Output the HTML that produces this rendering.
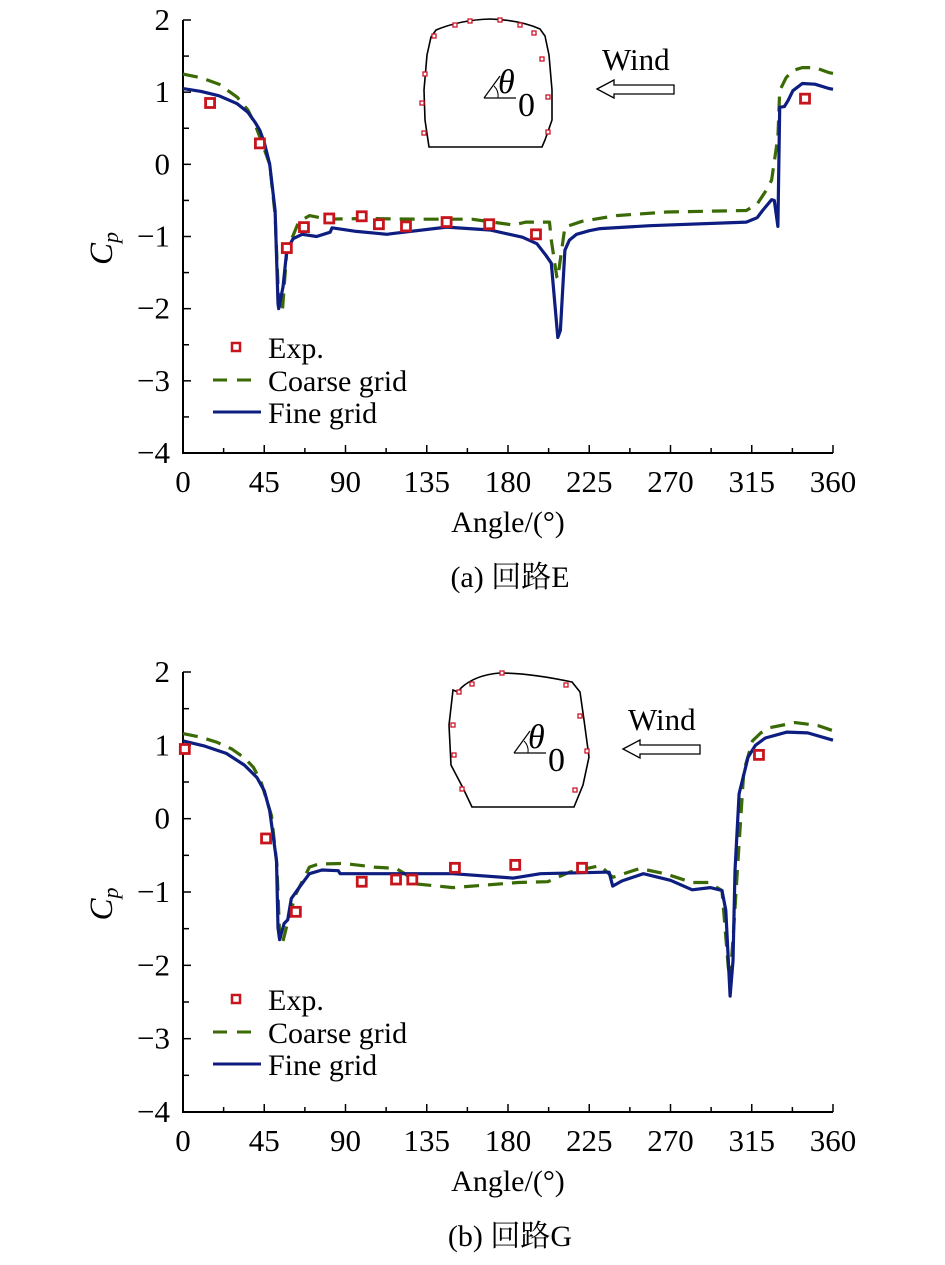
<!DOCTYPE html>
<html><head><meta charset="utf-8">
<style>
body{margin:0;background:#fff;}
svg{display:block;font-family:"Liberation Serif","Noto Serif CJK SC",serif;}
</style></head>
<body>
<svg id="fig" width="945" height="1265" viewBox="0 0 945 1265" xmlns="http://www.w3.org/2000/svg"></svg>
<script>
// ---- Panel (a) data: circuit E ----
const aFineDeg=[0,10,20,30,36,40,42.6,45,48,51,52.6,53,55.4,57.5,61,66,74,81.5,82.5,96,113,116,146,170,188,196,201,204,207.6,209,211.5,214,218,225,231,258.6,312,318,321,326,327.5,329.5,330.5,333,335,337.8,343,350,358,360];
const aFineCp=[1.05,1.01,0.95,0.84,0.72,0.58,0.47,0.3,0.0,-0.64,-1.93,-2.0,-1.7,-1.19,-1.03,-0.97,-1.0,-0.94,-0.88,-0.93,-0.97,-0.96,-0.87,-0.91,-1.01,-1.1,-1.26,-1.37,-2.4,-2.3,-1.19,-1.05,-0.97,-0.92,-0.89,-0.85,-0.8,-0.74,-0.64,-0.49,-0.5,-0.86,0.79,0.8,0.88,1.02,1.12,1.11,1.05,1.04];
const aCoarseDeg=[0,4,10,20,30,36,40,43,48,51,53,55,57.5,64,70,80,100,130,160,183,190,203,204,207,207.5,211.5,221,240,268,312,318,323,326,329.5,330.5,334,337.8,343,350,358,360];
const aCoarseCp=[1.25,1.23,1.2,1.11,0.93,0.75,0.55,0.35,0.0,-0.7,-1.9,-2.05,-1.2,-0.8,-0.71,-0.76,-0.75,-0.76,-0.76,-0.84,-0.8,-0.8,-1.05,-1.56,-1.58,-0.87,-0.79,-0.71,-0.66,-0.64,-0.55,-0.36,-0.22,0.38,1.02,1.2,1.3,1.34,1.34,1.27,1.26];
const aExpDeg=[15,42.6,57.5,67,81,99,108.5,123.5,146,169.6,195.5,344.5];
const aExpCp=[0.85,0.29,-1.16,-0.87,-0.75,-0.72,-0.83,-0.86,-0.8,-0.83,-0.97,0.91];
// ---- Panel (b) data: circuit G ----
const bFineDeg=[0,12,24,34,41,45,48,51.8,52.6,53.5,56,58,60,64,70,77,86,87,113,149.5,183,198,233.6,236,238,243,255,270,282,292,298.5,300.6,303,304.6,305.7,308,313,317,322.5,334.5,346,360];
const bFineCp=[1.06,0.99,0.89,0.73,0.56,0.38,0.11,-0.57,-1.49,-1.65,-1.43,-1.38,-1.09,-0.95,-0.75,-0.7,-0.71,-0.75,-0.75,-0.75,-0.81,-0.75,-0.73,-0.73,-0.92,-0.85,-0.75,-0.84,-0.97,-0.94,-0.98,-1.25,-2.42,-1.94,-0.71,0.34,0.84,1.0,1.1,1.18,1.17,1.07];
const bCoarseDeg=[0,10,19,27,34,39,43,49,52,53.5,55,58.5,62.5,70,75,89,106,118,123,129,149.5,185.6,202,214,231,238,253,267,282,291,298.5,302,303,305,308,310.6,315.4,320,325,339,351.6,360];
const bCoarseCp=[1.16,1.11,1.04,0.95,0.83,0.7,0.52,0.04,-0.63,-1.58,-1.71,-1.36,-1.03,-0.66,-0.62,-0.61,-0.66,-0.68,-0.75,-0.89,-0.94,-0.87,-0.86,-0.73,-0.64,-0.8,-0.68,-0.75,-0.87,-0.87,-0.98,-2.03,-2.2,-1.5,-0.34,0.65,1.06,1.17,1.24,1.31,1.27,1.2];
const bExpDeg=[1,46,62.5,99,118,127,150.6,184,221,319];
const bExpCp=[0.95,-0.27,-1.27,-0.86,-0.83,-0.83,-0.67,-0.63,-0.67,0.87];
const xTicks=[0,45,90,135,180,225,270,315,360];
const yTicks=[2,1,0,-1,-2,-3,-4];
const yTickLabels=["2","1","0","\u22121","\u22122","\u22123","\u22124"];

const NS="http://www.w3.org/2000/svg";
const svg=document.getElementById('fig');
function mk(tag,attrs,parent){const e=document.createElementNS(NS,tag);for(const k in attrs)e.setAttribute(k,attrs[k]);(parent||svg).appendChild(e);return e;}

function drawPanel(id,top,bottom,fineD,fineC,coarseD,coarseC,expD,expC,caption,inset){
  const x0=183,x1=833;
  const xs=d=>x0+(d/360)*(x1-x0);
  const ys=v=>top+(2-v)/6*(bottom-top);
  const g=mk('g',{});
  
  
  const ax=mk('path',{d:`M${x0},${top} L${x0},${bottom} L${x1},${bottom}`,stroke:'#000','stroke-width':2,fill:'none'},g);
  
  
  for(let d=0;d<=360;d+=22.5){
    const major=(d%45===0);
    const t=mk('line',{x1:xs(d),x2:xs(d),y1:bottom,y2:bottom-(major?8:5),stroke:'#000','stroke-width':1.5},g);
    
    
  }
  for(let v=-4;v<=2;v+=0.5){
    const t=mk('line',{x1:x0,x2:x0+(Number.isInteger(v)?8:6),y1:ys(v),y2:ys(v),stroke:'#000','stroke-width':1.5},g);
    
    
  }
  xTicks.forEach(d=>{
    const t=mk('text',{x:xs(d),y:bottom+39,'font-size':31,'text-anchor':'middle'},g);
    t.textContent=String(d);
    
    
  });
  yTicks.forEach((v,i)=>{
    const t=mk('text',{x:170,y:ys(v)+10,'font-size':31,'text-anchor':'end'},g);
    t.textContent=yTickLabels[i];
    
    
  });
  const yl=mk('text',{transform:`translate(112,${ys(-1)+12}) rotate(-90)`,'font-size':33,'font-style':'italic','text-anchor':'middle'},g);
  yl.innerHTML='C<tspan font-size="22" dy="6">p</tspan>';
  
  
  const xl=mk('text',{x:508,y:bottom+79,'font-size':30,'text-anchor':'middle'},g);
  xl.textContent='Angle/(\u00b0)';
  
  
  const cap=mk('text',{x:510,y:bottom+134,'font-size':30,'text-anchor':'middle'},g);
  cap.textContent=caption;
  
  
  const path=(D,C)=>D.map((d,i)=>(i?'L':'M')+xs(d).toFixed(1)+','+ys(C[i]).toFixed(1)).join(' ');
  const cl=mk('path',{d:path(coarseD,coarseC),stroke:'#3a6a05','stroke-width':3.2,fill:'none','stroke-dasharray':'15,9','stroke-linejoin':'round'},g);
  
  
  const fl=mk('path',{d:path(fineD,fineC),stroke:'#0d1d80','stroke-width':3.2,fill:'none','stroke-linejoin':'round'},g);
  
  
  expD.forEach((d,i)=>{
    const r=mk('rect',{x:xs(d)-4.5,y:ys(expC[i])-4.5,width:9,height:9,fill:'#fff',stroke:'#c8141c','stroke-width':2.8},g);
    
    
  });
  const ly=top+327;
  const lg=mk('g',{},g);
  
  
  const lm=mk('rect',{x:232,y:ly-4,width:8,height:8,fill:'#fff',stroke:'#c8141c','stroke-width':2.5},lg);
  
  
  const t1=mk('text',{x:268,y:ly+11,'font-size':30},lg);t1.textContent='Exp.';
  
  
  const l2=mk('line',{x1:213,x2:259,y1:ly+33,y2:ly+33,stroke:'#3a6a05','stroke-width':3,'stroke-dasharray':'14,10'},lg);
  
  
  const t2=mk('text',{x:268,y:ly+44,'font-size':30},lg);t2.textContent='Coarse grid';
  
  
  const l3=mk('line',{x1:213,x2:261,y1:ly+65,y2:ly+65,stroke:'#0d1d80','stroke-width':3},lg);
  
  
  const t3=mk('text',{x:268,y:ly+76,'font-size':30},lg);t3.textContent='Fine grid';
  
  
  const ig=mk('g',{},g);
  
  
  const sh=mk('path',{d:inset.shape,stroke:'#000','stroke-width':1.6,fill:'none'},ig);
  
  
  inset.taps.forEach(p=>{
    const r=mk('rect',{x:p[0]-2,y:p[1]-2,width:4,height:4,fill:'#fff',stroke:'#d0142a','stroke-width':1.3},ig);
    
    
  });
  const [cx,cy]=inset.center;
  mk('line',{x1:cx-14,y1:cy,x2:cx+18,y2:cy,stroke:'#000','stroke-width':1.2},ig);
  mk('line',{x1:cx-14,y1:cy,x2:cx+2,y2:cy-22,stroke:'#000','stroke-width':1.2},ig);
  mk('path',{d:`M${cx-4},${cy-12} Q${cx+1},${cy-7} ${cx},${cy}`,stroke:'#000','stroke-width':1,fill:'none'},ig);
  const th=mk('text',{x:cx,y:cy-5,'font-size':34,'font-style':'italic'},ig);th.textContent='\u03b8';
  
  
  const z=mk('text',{x:cx+20,y:cy+18,'font-size':34},ig);z.textContent='0';
  
  
  const [wx,wy]=inset.wind;
  const wt=mk('text',{x:wx,y:wy,'font-size':31},ig);wt.textContent='Wind';
  
  
  const ar=mk('path',{d:`M${wx-5},${wy+19} L${wx+12},${wy+10} L${wx+12},${wy+15} L${wx+72},${wy+15} L${wx+72},${wy+24} L${wx+12},${wy+24} L${wx+12},${wy+28} Z`,stroke:'#000','stroke-width':1.3,fill:'#fff'},ig);
  
  
}

drawPanel('a',20,453,aFineDeg,aFineCp,aCoarseDeg,aCoarseCp,aExpDeg,aExpCp,'(a) 回路E',{
  shape:'M429,147 L425,120 L424,90 L427,55 L431,37 L436,30 Q460,20 490,19 Q520,20 540,29 L545,36 L549,55 L552,90 L552,120 L545,140 L542,147 Z',
  taps:[[424,133],[422,103],[425,74],[434,36],[455,25],[470,21],[500,20],[520,25],[534,33],[542,59],[548,97],[548,132]],
  center:[498,98],wind:[602,70]});
drawPanel('b',672,1112,bFineDeg,bFineCp,bCoarseDeg,bCoarseCp,bExpDeg,bExpCp,'(b) 回路G',{
  shape:'M472,807 L463,788 L451,765 L449,725 L453,690 L458,692 L461,688 Q475,675 500,673 Q530,673 572,682 L580,692 L584,720 L589,757 L583,785 L574,807 Z',
  taps:[[454,755],[453,725],[459,692],[472,684],[502,673],[566,685],[580,716],[587,751],[575,790],[462,789]],
  center:[528,753],wind:[628,730]});
</script>
</body></html>
